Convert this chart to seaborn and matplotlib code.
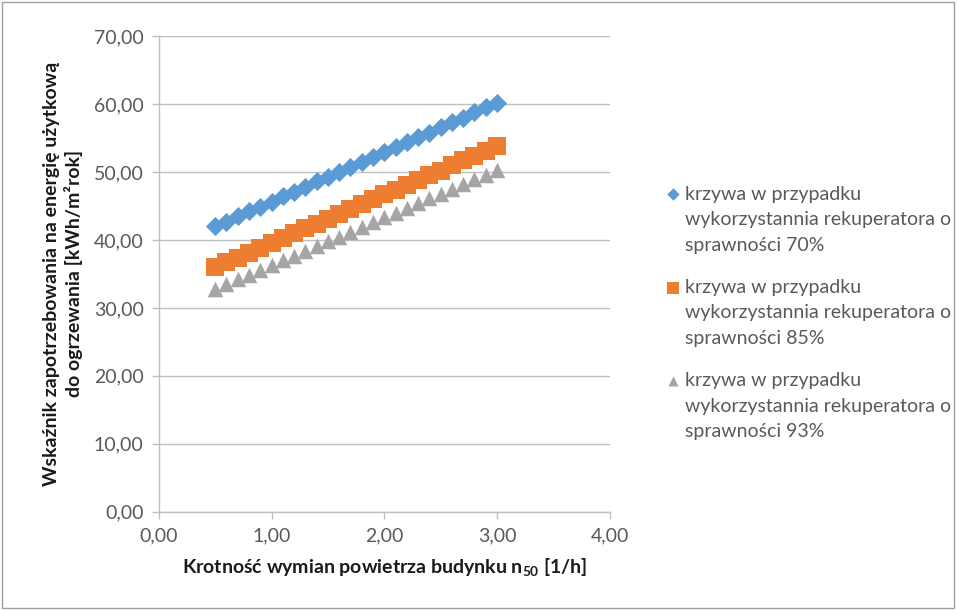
import matplotlib
matplotlib.use("Agg")
import matplotlib.pyplot as plt
import seaborn as sns
import pandas as pd
from matplotlib.ticker import FuncFormatter, MultipleLocator

x_vals = [0.5, 0.6, 0.7, 0.8, 0.9, 1.0, 1.1, 1.2, 1.3, 1.4, 1.5, 1.6, 1.7,
          1.8, 1.9, 2.0, 2.1, 2.2, 2.3, 2.4, 2.5, 2.6, 2.7, 2.8, 2.9, 3.0]
s70 = [42.0, 42.7, 43.5, 44.2, 44.9, 45.6, 46.4, 47.1, 47.8, 48.6, 49.3, 50.0, 50.7,
       51.5, 52.2, 52.9, 53.7, 54.4, 55.1, 55.8, 56.6, 57.3, 58.0, 58.8, 59.5, 60.2]
s85 = [36.0, 36.7, 37.4, 38.1, 38.8, 39.6, 40.3, 41.0, 41.7, 42.4, 43.1, 43.8, 44.5,
       45.3, 46.0, 46.7, 47.4, 48.1, 48.8, 49.5, 50.2, 51.0, 51.7, 52.4, 53.1, 53.8]
s93 = [32.8, 33.5, 34.2, 34.9, 35.6, 36.3, 37.0, 37.7, 38.4, 39.1, 39.8, 40.5, 41.2,
       41.9, 42.6, 43.3, 44.0, 44.7, 45.4, 46.1, 46.8, 47.5, 48.2, 48.9, 49.6, 50.3]
labels = ["krzywa w przypadku\nwykorzystannia rekuperatora o\nsprawności 70%",
          "krzywa w przypadku\nwykorzystannia rekuperatora o\nsprawności 85%",
          "krzywa w przypadku\nwykorzystannia rekuperatora o\nsprawności 93%"]
colors = ["#5B9BD5", "#ED7D31", "#A5A5A5"]
markers = ["D", "s", "^"]
sizes = [95, 150, 125]

sns.set_theme(style="white")
plt.rcParams['font.family'] = ['Lato', 'DejaVu Sans']
plt.rcParams['mathtext.fontset'] = 'custom'
plt.rcParams['mathtext.rm'] = 'Lato'
plt.rcParams['mathtext.bf'] = 'Lato:bold'

fig = plt.figure(figsize=(9.57, 6.10), dpi=100)
ax = fig.add_axes([0.166, 0.161, 0.471, 0.780])

for vals, lab, c, m, s in zip([s70, s85, s93], labels, colors, markers, sizes):
    df = pd.DataFrame({"x": x_vals, "y": vals})
    sns.scatterplot(data=df, x="x", y="y", ax=ax, color=c, marker=m, s=s,
                    linewidth=0, label=lab, zorder=3)

ax.set_xlim(0, 4)
ax.set_ylim(0, 70)
ax.xaxis.set_major_locator(MultipleLocator(1))
ax.yaxis.set_major_locator(MultipleLocator(10))
fmt = FuncFormatter(lambda v, p: f"{v:.2f}".replace(".", ","))
ax.xaxis.set_major_formatter(fmt)
ax.yaxis.set_major_formatter(fmt)
ax.grid(axis="y", color="#BFBFBF", linewidth=1)
ax.grid(axis="x", visible=False)
for sp in ["top", "right"]:
    ax.spines[sp].set_visible(False)
for sp in ["left", "bottom"]:
    ax.spines[sp].set_color("#BFBFBF")
    ax.spines[sp].set_linewidth(1)
ax.tick_params(axis="both", which="major", labelsize=14, colors="#595959",
               length=5, width=1, direction="out", left=True, bottom=True,
               pad=6)
ax.tick_params(axis="both", color="#BFBFBF")
for t in ax.get_xticklabels() + ax.get_yticklabels():
    t.set_color("#595959")

ax.set_xlabel("Krotność wymian powietrza budynku n$_\\mathbf{50}$ [1/h]",
              fontsize=14, fontweight="bold", color="#1a1a1a", labelpad=9)
ax.set_ylabel("Wskaźnik zapotrzebowania na energię użytkową\ndo ogrzewania [kWh/m²rok]",
              fontsize=14, fontweight="bold", color="#1a1a1a", labelpad=8)

ax.get_legend().remove()
handles, lbls = ax.get_legend_handles_labels()
leg = fig.legend(handles, lbls, loc="center left", bbox_to_anchor=(0.688, 0.487),
                 frameon=False, fontsize=14, labelspacing=1.3, handlelength=0.7,
                 handletextpad=0.25, markerscale=0.65, borderaxespad=0)
for t in leg.get_texts():
    t.set_color("#595959")
    t.set_linespacing(1.6)
# align markers with the first line of each entry
for col in leg._legend_handle_box.get_children():
    for hp in col.get_children():
        hp.align = "top"

fig.patches.append(plt.Rectangle((0.002, 0.003), 0.995, 0.994, transform=fig.transFigure,
                                 fill=False, edgecolor="#A0A0A0", linewidth=1))
fig.savefig("out.png", dpi=100)
